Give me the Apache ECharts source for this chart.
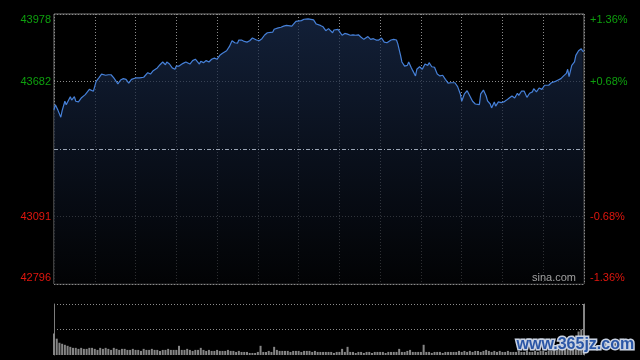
<!DOCTYPE html>
<html>
<head>
<meta charset="utf-8">
<script src="https://cdn.jsdelivr.net/npm/echarts@6/dist/echarts.min.js"></script>
<style>
html,body{margin:0;padding:0;background:#000;}
#chart{width:640px;height:360px;}
</style>
</head>
<body>
<div id="chart"></div>
<script>
// ---- data ----
const prevClose = 43387;
const priceMin = 42796;
const priceMax = 43978;
const priceStep = 295.5;

const minutes = [0,1,3,5,6,8,9,12,13,15,16,18,20,23,26,27,29,30,31,33,35,38,40,42,44,47,49,51,53,55,57,60,63,66,69,71,73,76,77,78,80,82,83,85,87,89,90,92,95,97,100,102,104,105,107,108,110,112,114,116,118,120,122,124,127,129,131,133,135,136,138,140,142,144,146,147,149,151,153,155,157,161,162,165,167,169,171,175,178,182,184,187,191,193,196,198,200,202,205,206,209,210,212,214,216,218,220,222,224,226,228,231,232,233,235,237,239,241,243,245,248,250,252,253,255,256,257,258,260,261,263,264,266,267,269,271,273,275,276,278,280,282,284,286,288,290,292,295,297,299,300,302,304,306,308,310,313,314,316,318,319,321,322,324,325,327,329,331,333,335,337,339,341,342,344,346,348,350,352,353,355,357,359,361,362,364,366,369,371,373,375,377,378,379,381,383,384,386,388,389,390];
const prices = [43558,43581,43555,43526,43555,43596,43581,43616,43601,43616,43596,43593,43610,43625,43648,43651,43640,43637,43683,43698,43715,43710,43712,43712,43698,43672,43689,43695,43692,43675,43692,43698,43698,43701,43721,43715,43730,43742,43750,43756,43768,43756,43768,43759,43742,43736,43750,43750,43762,43768,43759,43774,43780,43774,43759,43771,43765,43774,43768,43780,43785,43780,43797,43806,43817,43835,43861,43852,43850,43864,43864,43858,43855,43861,43873,43876,43864,43861,43870,43886,43896,43899,43911,43917,43920,43925,43928,43925,43946,43949,43955,43957,43952,43934,43928,43922,43905,43914,43896,43908,43911,43902,43885,43893,43890,43885,43887,43885,43887,43876,43867,43879,43873,43867,43870,43864,43864,43873,43855,43852,43864,43867,43864,43847,43797,43768,43774,43750,43753,43768,43742,43730,43707,43736,43747,43736,43759,43753,43765,43747,43745,43715,43707,43710,43692,43675,43677,43677,43660,43628,43596,43628,43642,43619,43596,43584,43581,43628,43645,43619,43598,43584,43567,43593,43575,43593,43590,43593,43601,43610,43619,43610,43631,43622,43640,43640,43613,43631,43637,43651,43637,43654,43648,43666,43663,43666,43677,43683,43689,43695,43707,43718,43736,43704,43753,43768,43797,43817,43826,43815,43815];

// volume per 2-minute bar (bar i at minute 2*i)
const volumes = [
 21,16,12,11,10,9,8,7,7,6,
 7,6,6,7,7,6,5,7,6,7,
 6,5,7,6,5,6,6,5,5,6,
 5,5,4,6,5,5,6,5,5,4,
 5,5,6,5,5,5,9,5,5,6,
 5,4,5,5,7,5,4,5,4,4,
 5,4,4,4,5,4,4,3,4,3,
 3,3,2,2,2,3,9,3,3,4,
 3,8,5,4,4,4,4,3,4,4,
 4,3,4,4,4,3,4,3,3,3,
 3,3,3,2,3,3,6,3,8,3,
 3,2,3,3,2,3,3,2,3,3,
 3,3,2,3,3,3,3,6,3,3,
 4,5,3,3,3,3,10,3,3,2,
 3,3,3,2,3,3,3,3,3,4,
 3,4,3,4,3,4,4,3,4,5,
 4,3,4,3,4,3,3,4,3,3,
 3,4,3,3,4,3,3,4,3,4,
 4,3,4,4,5,4,5,6,7,6,
 10,19,14,23,25,50
];
const volMinutes = volumes.map((v, i) => i * 2);

// ---- chart ----
const GREEN = '#0ea00e';
const RED = '#e0160e';
const GRID_GRAY = '#7c7c7c';

const priceData = minutes.map((m, i) => [m, prices[i]]);
const volData = volMinutes.map((m, i) => [m, volumes[i]]);

function pctText(v) {
  const p = (v - prevClose) / prevClose * 100;
  return (p > 0 ? '+' : '') + p.toFixed(2) + '%';
}

const chart = echarts.init(document.getElementById('chart'), null, {renderer: 'canvas'});
const option = {
  backgroundColor: '#000',
  animation: false,
  textStyle: {fontFamily: 'Liberation Sans, Arial, sans-serif'},
  grid: [
    {left: 54, right: 56, top: 14, height: 270, show: true, borderColor: GRID_GRAY, borderWidth: 1, backgroundColor: 'transparent'},
    {left: 54, right: 56, top: 304, height: 51}
  ],
  xAxis: [
    {gridIndex: 0, type: 'value', min: 0, max: 390, interval: 30,
     axisLine: {show: false}, axisTick: {show: false}, axisLabel: {show: false},
     splitLine: {show: true, lineStyle: {color: '#8c8c8c', type: [1, 2], width: 1}}},
    {gridIndex: 1, type: 'value', min: 0, max: 390,
     axisLine: {show: false}, axisTick: {show: false}, axisLabel: {show: false}, splitLine: {show: false}}
  ],
  yAxis: [
    {gridIndex: 0, type: 'value', min: priceMin, max: priceMax, interval: priceStep,
     axisLine: {show: false}, axisTick: {show: false},
     splitLine: {show: true, lineStyle: {color: '#8c8c8c', type: [1, 2], width: 1}},
     axisLabel: {
       margin: 3, fontSize: 11,
       formatter: function (v) {
         const s = String(Math.floor(v));
         if (Math.abs(v - prevClose) < 1) return '';
         if (v >= priceMax - 0.5) return '{gt|' + s + '}';
         if (v <= priceMin + 0.5) return '{rb|' + s + '}';
         return v > prevClose ? '{g|' + s + '}' : '{r|' + s + '}';
       },
       rich: {
         g: {color: GREEN, fontSize: 11},
         r: {color: RED, fontSize: 11},
         gt: {color: GREEN, fontSize: 11, padding: [12, 0, 0, 0]},
         rb: {color: RED, fontSize: 11, padding: [0, 0, 12, 0]}
       }
     }},
    {gridIndex: 0, type: 'value', position: 'right', min: priceMin, max: priceMax, interval: priceStep,
     axisLine: {show: false}, axisTick: {show: false}, splitLine: {show: false},
     axisLabel: {
       margin: 6, fontSize: 11,
       formatter: function (v) {
         const s = pctText(v);
         if (Math.abs(v - prevClose) < 1) return '';
         if (v >= priceMax - 0.5) return '{gt|' + s + '}';
         if (v <= priceMin + 0.5) return '{rb|' + s + '}';
         return v > prevClose ? '{g|' + s + '}' : '{r|' + s + '}';
       },
       rich: {
         g: {color: GREEN, fontSize: 11},
         r: {color: RED, fontSize: 11},
         gt: {color: GREEN, fontSize: 11, padding: [12, 0, 0, 0]},
         rb: {color: RED, fontSize: 11, padding: [0, 0, 12, 0]}
       }
     }},
    {gridIndex: 1, type: 'value', min: 0, max: 50, interval: 25,
     axisLine: {show: true, lineStyle: {color: GRID_GRAY, width: 1}}, axisTick: {show: false}, axisLabel: {show: false},
     splitLine: {show: true, showMinLine: false, lineStyle: {color: '#8c8c8c', type: [1, 2], width: 1}}},
    {gridIndex: 1, type: 'value', position: 'right', min: 0, max: 50,
     axisLine: {show: true, lineStyle: {color: GRID_GRAY, width: 1}}, axisTick: {show: false}, axisLabel: {show: false},
     splitLine: {show: false}}
  ],
  series: [
    {
      type: 'line', xAxisIndex: 0, yAxisIndex: 0, data: priceData,
      showSymbol: false, symbol: 'none',
      lineStyle: {color: '#4680d8', width: 1.2},
      areaStyle: {
        color: new echarts.graphic.LinearGradient(0, 0, 0, 1, [
          {offset: 0, color: '#1a2d4f'},
          {offset: 0.45, color: '#0f192c'},
          {offset: 1, color: '#030406'}
        ])
      },
      markLine: {
        silent: true, symbol: 'none', label: {show: false},
        lineStyle: {color: '#9aa4b4', type: [4, 2, 1, 2], width: 1},
        data: [{yAxis: prevClose}]
      },
      z: 3
    },
    {
      type: 'bar', xAxisIndex: 1, yAxisIndex: 2, data: volData,
      barWidth: 2, itemStyle: {color: '#858585'}
    }
  ],
  graphic: [
    {type: 'text', left: 532, top: 272, z: 10,
     style: {text: 'sina.com', fill: '#a0a0a0', font: '11px "Liberation Sans", Arial, sans-serif'}},
    {type: 'text', left: 515, top: 335, z: 10,
     style: {text: 'www.365jz.com', fill: '#2a56a6', stroke: '#c9d2e2', lineWidth: 3,
             font: 'bold 16px "Liberation Sans", Arial, sans-serif'}}
  ]
};
chart.setOption(option);
</script>
</body>
</html>
